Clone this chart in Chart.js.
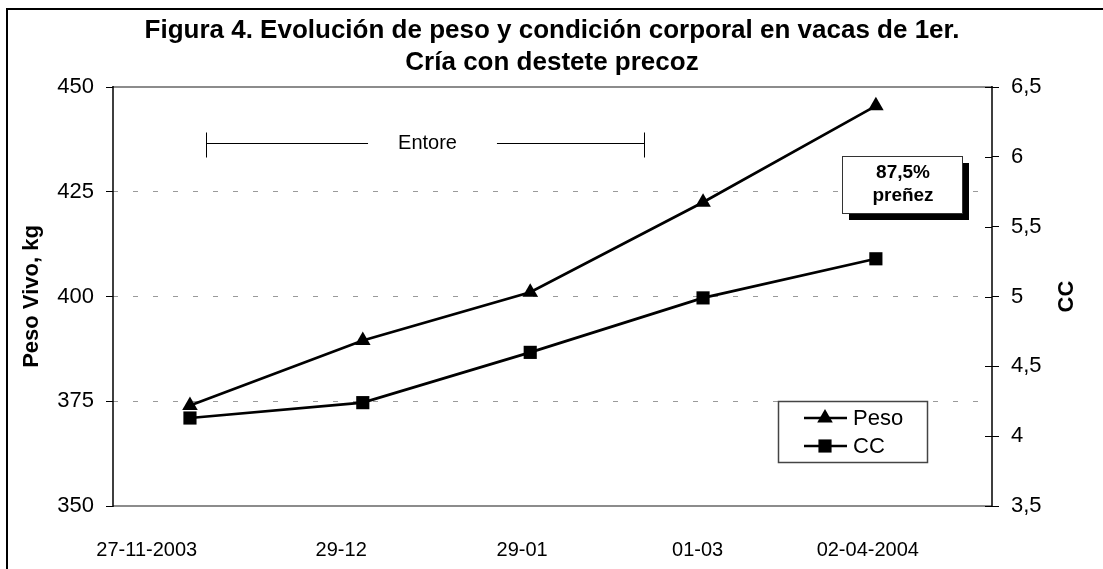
<!DOCTYPE html>
<html><head><meta charset="utf-8">
<script src="https://cdn.jsdelivr.net/npm/chart.js@4/dist/chart.umd.min.js"></script>
<style>html,body{margin:0;padding:0;background:#fff}#wrap{width:1103px;height:569px;position:relative}</style>
</head><body><div id="wrap"><canvas id="c" width="1103" height="569"></canvas></div>
<script>
// ---- data ----
const sampleDates = ['2003-11-27', '2003-12-29', '2004-01-29', '2004-03-01', '2004-04-02'];
const dateLabels = ['27-11-2003', '29-12', '29-01', '01-03', '02-04-2004'];
const dateLabelDays = [-8, 28, 61.5, 94, 125.5];
const pesoVivo = [374, 389.5, 401, 422.5, 445.5];
const condicionCorporal = [4.13, 4.24, 4.6, 4.99, 5.27];
const pesoTicks = [350, 375, 400, 425, 450];
const ccTicks = [3.5, 4, 4.5, 5, 5.5, 6, 6.5];
const titleLines = ['Figura 4. Evolución de peso y condición corporal en vacas de 1er.', 'Cría con destete precoz'];
const entorePeriod = ['2003-11-30', '2004-02-19'];
const entoreLabel = 'Entore';
const noteLines = ['87,5%', 'preñez'];
const axisTitles = ['Peso Vivo, kg', 'CC'];

const FONT = "'Liberation Sans', Arial, Helvetica, sans-serif";
const DAY = 86400000;
const t0 = Date.parse(sampleDates[0]);
const toDay = d => (Date.parse(d) - t0) / DAY;
const xDays = sampleDates.map(toDay);
const fmt = v => String(v).replace('.', ',');

const decor = {
  id: 'decor',
  beforeDraw(chart) {
    const {ctx} = chart;
    ctx.save();
    ctx.fillStyle = '#fff';
    ctx.fillRect(0, 0, chart.width, chart.height);
    ctx.restore();
  },
  afterDraw(chart) {
    const {ctx, chartArea: a, scales} = chart;
    const x = scales.x, y1 = scales.y1;
    ctx.save();
    // outer frame
    ctx.strokeStyle = '#000'; ctx.lineWidth = 2;
    ctx.strokeRect(7, 9, 1200, 700);
    // plot top/bottom borders
    ctx.strokeStyle = '#8c8c8c'; ctx.lineWidth = 2;
    ctx.beginPath();
    ctx.moveTo(a.left, a.top); ctx.lineTo(a.right, a.top);
    ctx.moveTo(a.left, a.bottom); ctx.lineTo(a.right, a.bottom);
    ctx.stroke();
    // axis lines
    ctx.strokeStyle = '#000'; ctx.lineWidth = 1.5;
    ctx.beginPath();
    ctx.moveTo(a.left, a.top - 1); ctx.lineTo(a.left, a.bottom + 1);
    ctx.moveTo(a.right, a.top - 1); ctx.lineTo(a.right, a.bottom + 1);
    ctx.stroke();
    // inner ticks on right axis
    ctx.lineWidth = 1;
    ctx.beginPath();
    ccTicks.forEach(v => {
      const py = Math.round(y1.getPixelForValue(v)) + 0.5;
      ctx.moveTo(a.right - 7, py); ctx.lineTo(a.right, py);
    });
    ctx.stroke();

    // title
    ctx.fillStyle = '#000';
    ctx.textAlign = 'center'; ctx.textBaseline = 'middle';
    ctx.font = 'bold 26px ' + FONT;
    ctx.fillText(titleLines[0], 552, 31);
    ctx.fillText(titleLines[1], 552, 63);

    // axis titles
    ctx.font = 'bold 22px ' + FONT;
    ctx.save(); ctx.translate(32, (a.top + a.bottom) / 2); ctx.rotate(-Math.PI / 2);
    ctx.fillText(axisTitles[0], 0, 0); ctx.restore();
    ctx.save(); ctx.translate(1067, (a.top + a.bottom) / 2); ctx.rotate(-Math.PI / 2);
    ctx.fillText(axisTitles[1], 0, 0); ctx.restore();

    // Entore bracket
    const ex0 = Math.round(x.getPixelForValue(toDay(entorePeriod[0]))) + 0.5;
    const ex1 = Math.round(x.getPixelForValue(toDay(entorePeriod[1]))) + 0.5;
    const ey = 143.5;
    ctx.strokeStyle = '#000'; ctx.lineWidth = 1;
    ctx.font = '20px ' + FONT;
    const mid = (ex0 + ex1) / 2 + 2;
    const tw = ctx.measureText(entoreLabel).width;
    ctx.beginPath();
    ctx.moveTo(ex0, ey - 11); ctx.lineTo(ex0, ey + 14);
    ctx.moveTo(ex1, ey - 11); ctx.lineTo(ex1, ey + 14);
    ctx.moveTo(ex0, ey); ctx.lineTo(mid - tw / 2 - 30, ey);
    ctx.moveTo(mid + tw / 2 + 40, ey); ctx.lineTo(ex1, ey);
    ctx.stroke();
    ctx.fillText(entoreLabel, mid, ey);

    // note box with shadow
    const bx = 842, by = 156, bw = 120, bh = 57;
    ctx.fillStyle = '#000';
    ctx.fillRect(bx + 7, by + 7, bw, bh);
    ctx.fillStyle = '#fff';
    ctx.fillRect(bx, by, bw, bh);
    ctx.strokeStyle = '#333'; ctx.lineWidth = 1;
    ctx.strokeRect(bx + 0.5, by + 0.5, bw, bh);
    ctx.fillStyle = '#000';
    ctx.font = 'bold 19px ' + FONT;
    ctx.fillText(noteLines[0], bx + bw / 2 + 1, by + 17);
    ctx.fillText(noteLines[1], bx + bw / 2 + 1, by + 40);

    // legend
    const lx = 778, ly = 401, lw = 149, lh = 61;
    ctx.fillStyle = '#fff';
    ctx.fillRect(lx, ly, lw, lh);
    ctx.strokeStyle = '#444'; ctx.lineWidth = 1.5;
    ctx.strokeRect(lx + 0.5, ly + 0.5, lw, lh);
    ctx.textAlign = 'left';
    ctx.font = '22px ' + FONT;
    chart.data.datasets.forEach((ds, i) => {
      const yy = ly + 17 + i * 28;
      ctx.strokeStyle = '#000'; ctx.lineWidth = 2.5;
      ctx.beginPath(); ctx.moveTo(804, yy); ctx.lineTo(847, yy); ctx.stroke();
      ctx.fillStyle = '#000'; ctx.strokeStyle = '#000'; ctx.lineWidth = 0.01;
      Chart.helpers.drawPoint(ctx, {pointStyle: ds.pointStyle, rotation: 0, radius: ds.pointRadius, borderWidth: 0}, 825, yy);
      ctx.fillStyle = '#000';
      ctx.fillText(ds.label, 853, yy + 1);
    });
    ctx.restore();
  }
};

const pts = (ys) => xDays.map((d, i) => ({x: d, y: ys[i]}));

new Chart(document.getElementById('c'), {
  type: 'line',
  data: {
    datasets: [
      {label: 'Peso', data: pts(pesoVivo), yAxisID: 'y', borderColor: '#000', borderWidth: 2.7,
       pointStyle: 'triangle', pointRadius: 9, pointBackgroundColor: '#000', pointBorderColor: '#000', pointBorderWidth: 0, tension: 0},
      {label: 'CC', data: pts(condicionCorporal), yAxisID: 'y1', borderColor: '#000', borderWidth: 2.7,
       pointStyle: 'rect', pointRadius: 9.3, pointBackgroundColor: '#000', pointBorderColor: '#000', pointBorderWidth: 0, tension: 0}
    ]
  },
  options: {
    responsive: false, animation: false, devicePixelRatio: 1,
    layout: {padding: {top: 87, left: 0, right: 0, bottom: 0}},
    plugins: {legend: {display: false}, title: {display: false}, tooltip: {enabled: false}},
    scales: {
      x: {
        type: 'linear', min: -14.25, max: 148.5,
        afterBuildTicks: s => { s.ticks = dateLabelDays.map(v => ({value: v})); },
        ticks: {callback: (v, i) => dateLabels[i], font: {size: 20, family: FONT}, color: '#000', padding: 24, maxRotation: 0, autoSkip: false},
        grid: {display: false}, border: {display: false},
        afterFit: s => { s.height = 63; }
      },
      y: {
        position: 'left', min: 350, max: 450,
        afterBuildTicks: s => { s.ticks = pesoTicks.map(v => ({value: v})); },
        ticks: {font: {size: 22, family: FONT}, color: '#000', padding: 12},
        grid: {color: c => (c.tick && (c.tick.value === 350 || c.tick.value === 450)) ? 'rgba(0,0,0,0)' : '#9a9a9a',
               lineWidth: 1, tickLength: 7, tickColor: '#000', tickWidth: 1},
        border: {display: false, dash: [5, 15]},
        afterFit: s => { s.width = 113; }
      },
      y1: {
        position: 'right', min: 3.5, max: 6.5,
        afterBuildTicks: s => { s.ticks = ccTicks.map(v => ({value: v})); },
        ticks: {callback: v => fmt(v), font: {size: 22, family: FONT}, color: '#000', padding: 12},
        grid: {drawOnChartArea: false, tickLength: 7, tickColor: '#000', tickWidth: 1},
        border: {display: false},
        afterFit: s => { s.width = 111; }
      }
    }
  },
  plugins: [decor]
});
</script>
</body></html>
